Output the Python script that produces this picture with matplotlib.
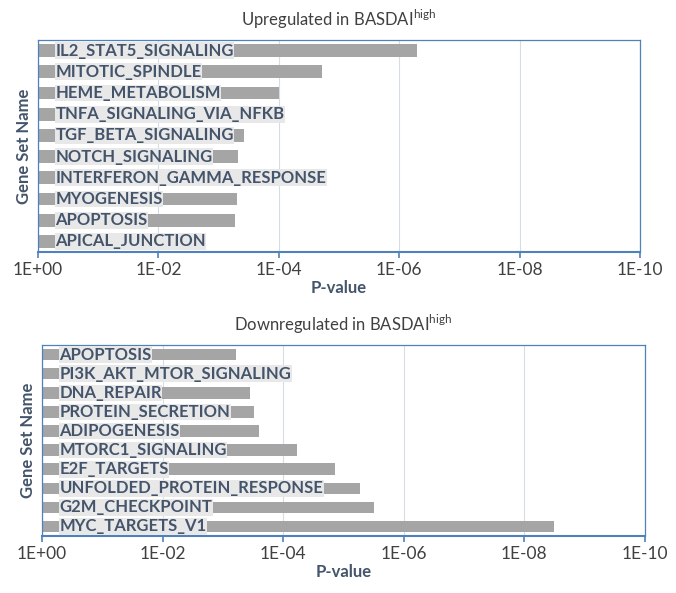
import matplotlib
matplotlib.use("Agg")
import matplotlib.pyplot as plt
import numpy as np

up_names = ["IL2_STAT5_SIGNALING", "MITOTIC_SPINDLE", "HEME_METABOLISM",
            "TNFA_SIGNALING_VIA_NFKB", "TGF_BETA_SIGNALING", "NOTCH_SIGNALING",
            "INTERFERON_GAMMA_RESPONSE", "MYOGENESIS", "APOPTOSIS", "APICAL_JUNCTION"]
up_pvals = [5e-7, 1.9e-5, 1.0e-4, 2e-3, 3.8e-4, 4.7e-4, 1e-3, 5e-4, 5.4e-4, 5e-3]

down_names = ["APOPTOSIS", "PI3K_AKT_MTOR_SIGNALING", "DNA_REPAIR", "PROTEIN_SECRETION",
              "ADIPOGENESIS", "MTORC1_SIGNALING", "E2F_TARGETS",
              "UNFOLDED_PROTEIN_RESPONSE", "G2M_CHECKPOINT", "MYC_TARGETS_V1"]
down_pvals = [6e-4, 2e-3, 3.5e-4, 3e-4, 2.5e-4, 6e-5, 1.4e-5, 5.4e-6, 3.1e-6, 3.2e-9]

ticks = [1e0, 1e-2, 1e-4, 1e-6, 1e-8, 1e-10]
tick_labels = ["1E+00", "1E-02", "1E-04", "1E-06", "1E-08", "1E-10"]

plt.rcParams["font.family"] = ["Lato", "DejaVu Sans"]
BAR = "#A5A5A5"
TXT = "#44546A"
SPINE = "#4F81BD"


def draw(ax, names, pvals, title):
    y = np.arange(len(names))
    # bars run from the p-value up to 1 on an inverted log axis
    ax.barh(y, [1.0 - p for p in pvals], left=pvals, height=0.6, color=BAR, zorder=2)
    for yi, name in zip(y, names):
        ax.annotate(name, xy=(1.0, yi), xytext=(12.5, 0), textcoords="offset points",
                    va="center", ha="left", fontsize=12, fontweight="bold", color=TXT,
                    bbox=dict(facecolor="#E8E8E8", edgecolor="none", pad=0.3), zorder=3)
    ax.set_xscale("log")
    ax.set_xlim(1e0, 1e-10)
    ax.set_ylim(len(names) - 0.5, -0.5)
    ax.set_xticks(ticks)
    ax.set_xticklabels(tick_labels)
    ax.minorticks_off()
    ax.set_yticks([])
    ax.grid(axis="x", color="#D6DCE5", lw=0.8, zorder=0)
    for s in ax.spines.values():
        s.set_color(SPINE)
        s.set_linewidth(0.9)
    ax.spines["bottom"].set_linewidth(1.5)
    ax.tick_params(axis="x", colors=SPINE, labelcolor="#404040", labelsize=12.5,
                   length=4, width=1.2, direction="out")
    ax.set_xlabel("P-value", fontsize=12, fontweight="bold", color=TXT, labelpad=1)
    ax.set_ylabel("Gene Set Name", fontsize=12, fontweight="bold", color=TXT, labelpad=4)
    ax.set_title(title, fontsize=12, color="#404040", pad=10)


fig = plt.figure(figsize=(6.76, 5.93), dpi=100)
ax1 = fig.add_axes([0.0562, 0.575, 0.8905, 0.3575])
ax2 = fig.add_axes([0.0621, 0.0961, 0.8919, 0.3219])
draw(ax1, up_names, up_pvals, r"Upregulated in BASDAI$^{\mathregular{high}}$")
draw(ax2, down_names, down_pvals, r"Downregulated in BASDAI$^{\mathregular{high}}$")
fig.savefig("out.png", dpi=100)
